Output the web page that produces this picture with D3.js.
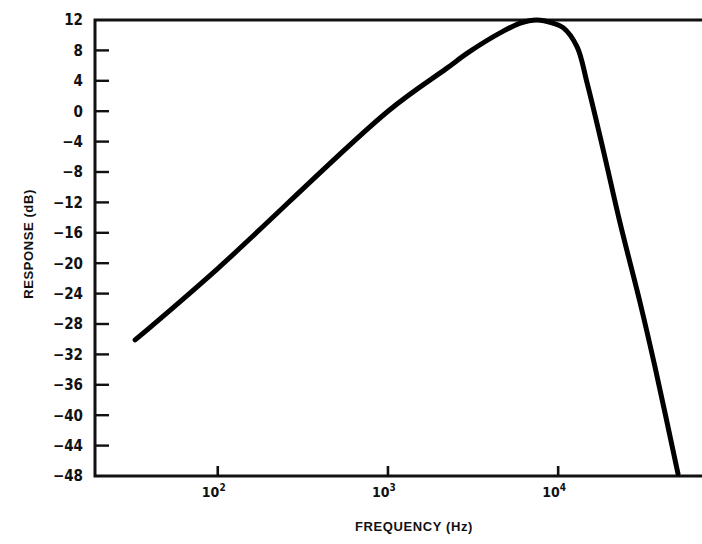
<!DOCTYPE html>
<html>
<head>
<meta charset="utf-8"/>
<title>Response vs frequency</title>
<style>
body {margin: 0; background: #fff}
text {font-family: "Liberation Sans Narrow", "DejaVu Sans Condensed", sans-serif; font-weight: bold; fill: #111}
.title {font-family: "Liberation Sans", "DejaVu Sans", sans-serif; font-size: 13px; letter-spacing: 0.6px}
</style>
</head>
<body>
<div id="chart"></div>
<script src="https://d3js.org/d3.v7.min.js"></script>
<script>
// values
var freq     = [32.7, 100, 1000, 2200, 3000, 4560, 6000, 7500, 9300, 10700, 12900, 14800, 18400, 23100, 30300, 37100, 50600]
var response = [-30.1, -20.7, 0, 5.6, 7.8, 10.3, 11.6, 12, 11.6, 11.0, 8.5, 3.7, -5.1, -14.7, -25.2, -33.7, -47.7]
var yTicks = [12, 8, 4, 0, -4, -8, -12, -16, -20, -24, -28, -32, -36, -40, -44, -48]
var xTicks = [100, 1000, 10000]
var xExp   = ["2", "3", "4"]

var width = 702, height = 544
var plotL = 95, plotT = 20, plotR = 702, plotB = 476

var svg = d3.select("#chart").append("svg")
  .attr("width", width)
  .attr("height", height)

var x = d3.scaleLog().domain([19, 70000]).range([plotL, plotR])
var y = d3.scaleLinear().domain([12, -48]).range([plotT, plotB])

// y axis labels
var yAxis = svg.append("g")
  .attr("transform", "translate(" + plotL + ",0)")
  .call(d3.axisLeft(y).tickValues(yTicks).tickSize(0).tickPadding(12))
yAxis.select(".domain").remove()
yAxis.selectAll(".tick text").style("font-size", "15px")

// inward tick marks on the y axis
svg.selectAll(".ytick")
  .data(yTicks.slice(1, -1))
  .enter()
  .append("rect")
    .attr("class", "ytick")
    .attr("x", plotL)
    .attr("y", function(d) { return y(d) - 1.2 })
    .attr("width", 14)
    .attr("height", 2.4)
    .attr("fill", "#111")

// inward tick marks on the x axis
svg.selectAll(".xtick")
  .data(xTicks)
  .enter()
  .append("rect")
    .attr("class", "xtick")
    .attr("x", function(d) { return x(d) - 1.3 })
    .attr("y", plotB - 10)
    .attr("width", 2.6)
    .attr("height", 10)
    .attr("fill", "#111")

var lab = svg.selectAll(".xlab")
  .data(xTicks)
  .enter()
  .append("text")
    .attr("class", "xlab")
    .attr("x", function(d) { return x(d) - 4 })
    .attr("y", plotB + 21)
    .attr("text-anchor", "middle")
    .style("font-size", "14px")
lab.append("tspan").text("10")
lab.append("tspan")
  .attr("dy", -6)
  .style("font-size", "10px")
  .text(function(d, i) { return xExp[i] })

// frame: left, bottom, top
svg.append("path")
  .attr("d", "M" + plotR + "," + y(12) + "H" + plotL + "V" + plotB + "H" + plotR)
  .attr("fill", "none")
  .attr("stroke", "#111")
  .attr("stroke-width", 3)

// response curve
var pts = freq.map(function(f, i) { return {f: f, r: response[i]} })
svg.append("path")
  .datum(pts)
  .attr("fill", "none")
  .attr("stroke", "#000")
  .attr("stroke-width", 5)
  .attr("stroke-linecap", "round")
  .attr("d", d3.line()
    .x(function(d) { return x(d.f) })
    .y(function(d) { return y(d.r) })
    .curve(d3.curveCatmullRom.alpha(0.5)))

// axis titles
svg.append("text")
  .attr("class", "title")
  .attr("x", 414)
  .attr("y", 531)
  .attr("text-anchor", "middle")
  .text("FREQUENCY (Hz)")

svg.append("text")
  .attr("class", "title")
  .attr("transform", "translate(33,244) rotate(-90)")
  .attr("text-anchor", "middle")
  .text("RESPONSE (dB)")
</script>
</body>
</html>
